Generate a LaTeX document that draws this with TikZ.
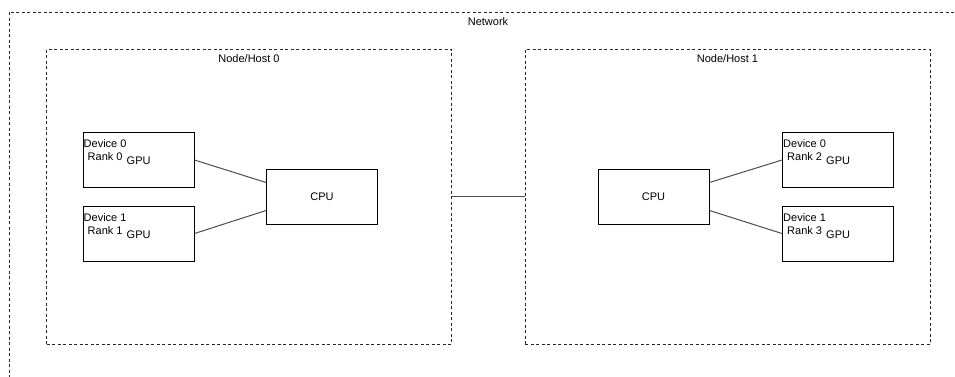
\documentclass[tikz,border=0pt]{standalone}
\usepackage{fontspec}
\setmainfont{Liberation Sans}
\usetikzlibrary{calc}

\begin{document}
\begin{tikzpicture}[x=1pt,y=-1pt,
    every node/.style={font=\fontsize{11}{13}\selectfont},
    hostbox/.style={draw=black!85, dash pattern=on 3pt off 2.5pt, line width=1pt, minimum width=405pt, minimum height=295pt, inner sep=0pt},
    devbox/.style={draw=black, line width=1pt, minimum width=111pt, minimum height=55pt, inner sep=0pt},
    lbl/.style={anchor=west, inner sep=0pt},
    wire/.style={draw=black!70, line width=1pt}]
      \useasboundingbox (0,0) rectangle (955,376);
      \clip (0,0) rectangle (955,376);
      % network
      \draw [black!85, dash pattern=on 3pt off 2.5pt, line width=1pt] (9,12) rectangle (990,400);
      \node (netlbl) at (488,22) {Network};
      % hosts
      \node [hostbox] (h0) at (249,196.5) {};
      \node [hostbox] (h1) at (727.5,196.5) {};
      \node (h0lbl) at ($(h0.north)+(0,10)$) {Node/Host 0};
      \node (h1lbl) at ($(h1.north)+(0,10)$) {Node/Host 1};
      % host 0
      \node [devbox] (d00) at (138.5,160) {};
      \node [devbox] (d01) at (138.5,233.5) {};
      \node [devbox] (cpu0) at (322,196.5) {CPU};
      \node [lbl] (d00a) at ($(d00.north west)+(1,12)$) {Device 0};
      \node [lbl] (d00b) at ($(d00.north west)+(5,25)$) {Rank 0};
      \node [lbl] (d00c) at ($(d00.north west)+(44,29)$) {GPU};
      \node [lbl] (d01a) at ($(d01.north west)+(1,12)$) {Device 1};
      \node [lbl] (d01b) at ($(d01.north west)+(5,25)$) {Rank 1};
      \node [lbl] (d01c) at ($(d01.north west)+(44,29)$) {GPU};
      % host 1
      \node [devbox] (cpu1) at (653.5,196.5) {CPU};
      \node [devbox] (d10) at (838,160) {};
      \node [devbox] (d11) at (838,233.5) {};
      \node [lbl] (d10a) at ($(d10.north west)+(1,12)$) {Device 0};
      \node [lbl] (d10b) at ($(d10.north west)+(5,25)$) {Rank 2};
      \node [lbl] (d10c) at ($(d10.north west)+(44,29)$) {GPU};
      \node [lbl] (d11a) at ($(d11.north west)+(1,12)$) {Device 1};
      \node [lbl] (d11b) at ($(d11.north west)+(5,25)$) {Rank 3};
      \node [lbl] (d11c) at ($(d11.north west)+(44,29)$) {GPU};
      % links
      \draw [wire] (d00.east) -- ($(cpu0.north west)!0.25!(cpu0.south west)$);
      \draw [wire] (d01.east) -- ($(cpu0.north west)!0.75!(cpu0.south west)$);
      \draw [wire] ($(cpu1.north east)!0.25!(cpu1.south east)$) -- (d10.west);
      \draw [wire] ($(cpu1.north east)!0.75!(cpu1.south east)$) -- (d11.west);
      \draw [wire] (h0.east) -- (h1.west);
    \end{tikzpicture}
\end{document}
